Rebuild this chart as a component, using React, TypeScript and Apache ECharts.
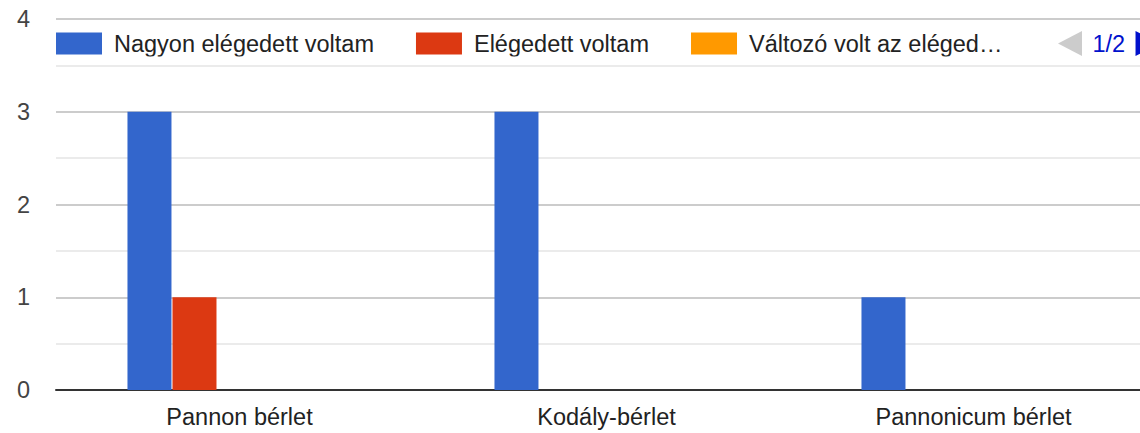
import React, { useEffect, useRef } from "react";
import * as echarts from "echarts";

const categories = ["Pannon bérlet", "Kodály-bérlet", "Pannonicum bérlet"];
const seriesNames = [
  "Nagyon elégedett voltam",
  "Elégedett voltam",
  "Változó volt az elégedettségem",
  "Nem voltam elégedett",
  "Egyáltalán nem voltam elégedett",
];
// legend labels as shown on the first legend page (third one truncated)
const legendLabels = [
  "Nagyon elégedett voltam",
  "Elégedett voltam",
  "Változó volt az eléged…",
  "Nem voltam elégedett",
  "Egyáltalán nem voltam elégedett",
];
const nagyonElegedett = [3, 3, 1];
const elegedett = [1, 0, 0];
const valtozo = [0, 0, 0];
const nemElegedett = [0, 0, 0];
const egyaltalanNem = [0, 0, 0];
const seriesValues = [nagyonElegedett, elegedett, valtozo, nemElegedett, egyaltalanNem];
const colors = ["#3366cc", "#dc3912", "#ff9900", "#109618", "#990099"];
const yTicks = [0, 1, 2, 3, 4];

const FONT = "Arial, 'Liberation Sans', sans-serif";
const FS = 23.5;

export default function App() {
  const ref = useRef<HTMLDivElement>(null);
  useEffect(() => {
    // measure texts so the legend pager sits where it does in the reference
    const ctx = document.createElement("canvas").getContext("2d")!;
    ctx.font = `normal normal ${FS}px ${FONT}`;
    const tw = (s: string) => ctx.measureText(s).width;
    const legendLeft = 56;
    const legendTop = 31;
    const iconW = 46;
    const textOffset = 12; // 5 (echarts) + 7 padding
    const itemGap = 42;
    const pagerIcon = 24;
    const pagerText = tw("xx/xx");
    const controllerW = pagerIcon * 2 + pagerText;
    const pagerStart = 1058;
    const legendWidth = pagerStart + controllerW - legendLeft;
    let s4 = 0;
    for (let i = 0; i < 3; i++) s4 += iconW + textOffset + tw(legendLabels[i]) + itemGap;
    const clipW = s4 + 0.01;
    const pageButtonGap = Math.max(0, legendWidth - controllerW - clipW);

    const chart = echarts.init(ref.current!, undefined, { renderer: "svg" });
    chart.setOption({
      animation: false,
      color: colors,
      textStyle: { fontFamily: FONT },
      grid: { left: 56, width: 1101, top: 19, bottom: 43, containLabel: false, outerBoundsMode: "none" },
      legend: {
        type: "scroll",
        orient: "horizontal",
        left: legendLeft,
        width: legendWidth,
        top: legendTop,
        padding: [0, 0, 0, 0],
        itemWidth: iconW,
        itemHeight: 22,
        itemGap: itemGap,
        icon: "rect",
        data: seriesNames,
        formatter: (name: string) => legendLabels[seriesNames.indexOf(name)],
        textStyle: { fontSize: FS, color: "#222", fontFamily: FONT, padding: [0, 0, 0, 7] },
        pageButtonPosition: "end",
        pageButtonGap: pageButtonGap,
        pageButtonItemGap: 0,
        pageFormatter: "{current}/{total}",
        pageIcons: {
          horizontal: ["path://M24,0L0,12.5L24,25z", "path://M0,0L24,12.5L0,25z"],
        },
        pageIconColor: "#0011cc",
        pageIconInactiveColor: "#cccccc",
        pageIconSize: [pagerIcon, 25],
        pageTextStyle: { color: "#0011cc", fontSize: FS, fontFamily: FONT },
      },
      graphic: [
        {
          type: "rect",
          z: 100,
          silent: true,
          shape: { x: legendLeft + s4 - 4, y: legendTop - 4, width: 7, height: 32 },
          style: { fill: "#ffffff" },
        },
      ],
      xAxis: {
        type: "category",
        data: categories,
        axisLine: { show: true, lineStyle: { color: "#333", width: 2 } },
        axisTick: { show: false },
        axisLabel: { fontSize: FS, color: "#222", margin: 15, fontFamily: FONT },
      },
      yAxis: {
        type: "value",
        min: yTicks[0],
        max: yTicks[yTicks.length - 1],
        interval: 1,
        axisLine: { show: false },
        axisTick: { show: false },
        axisLabel: { fontSize: FS, color: "#444", margin: 26, fontFamily: FONT },
        splitLine: { show: true, lineStyle: { color: "#cccccc", width: 2 } },
        minorTick: { show: false, splitNumber: 2 },
        minorSplitLine: { show: true, lineStyle: { color: "#ebebeb", width: 2 } },
      },
      series: seriesNames.map((name, i) => ({
        name,
        type: "bar",
        data: seriesValues[i],
        barWidth: 44,
        barGap: "2.3%",
        itemStyle: { color: colors[i] },
      })),
    });
    return () => chart.dispose();
  }, []);
  return <div ref={ref} style={{ width: 1140, height: 433, position: "absolute", left: 0, top: 0 }} />;
}
